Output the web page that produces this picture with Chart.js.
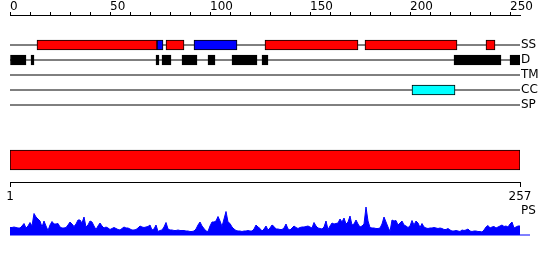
<!DOCTYPE html>
<html>
<head>
<meta charset="utf-8">
<script src="https://cdn.jsdelivr.net/npm/chart.js"></script>
<style>
  body { margin: 0; background: #fff; }
  #wrap { width: 550px; height: 260px; }
</style>
</head>
<body>
<div id="wrap"><canvas id="myChart" width="550" height="260"></canvas></div>
<script>
const seqLength = 257;
const trackNames = ['SS', 'D', 'TM', 'CC', 'SP', 'PS'];
const topTickLabels = [0, 50, 100, 150, 200, 250];
const bottomTickLabels = ['1', '257'];

// feature ranges (residue positions)
const ssHelix = [[13.5, 73.5], [78, 87], [127.5, 174], [177.5, 223.5], [238, 242.5]];
const ssStrand = [[73.5, 76.5], [92, 113.5]];
const disorder = [[0, 8], [10.5, 12], [73, 74.5], [76, 80.5], [86, 93.5], [99, 102.5],
                  [111, 123.5], [126, 129], [222, 245.5], [250, 255.5]];
const coiledCoil = [[201, 222.5]];
const domains = [[1, 257]];

// PS profile, one value per residue
const psScores = [
  7.5, 7.5, 8, 7.5, 7, 7, 9, 11.5, 7, 9,
  12.5, 9, 21.5, 18, 16, 14, 8, 14, 9, 4.5,
  10, 13.5, 11, 11, 11.5, 8, 7, 7, 7.5, 10,
  13, 11, 8.5, 11, 15, 15, 12, 18, 8, 10,
  14, 13, 9, 5.5, 9, 12, 9, 7, 8, 7,
  5.5, 6.5, 7.5, 6.5, 5.5, 5, 6.5, 8, 7, 7,
  6, 5, 5, 5.5, 7, 9, 8, 7.5, 8, 8.5,
  10, 5, 6, 10, 3.5, 4.5, 5, 8, 12.5, 6,
  5, 5, 4.5, 4.5, 5, 4.5, 4.5, 4.5, 4, 4,
  3.5, 3.5, 4, 6, 10, 13, 9, 6.5, 4, 3.5,
  9, 13, 13, 14, 18.5, 14, 8.5, 16, 23.5, 13,
  11.5, 8, 6, 4.5, 4, 4, 3.5, 4, 4, 4.5,
  4, 4, 6, 10, 8, 6.5, 4, 6, 9, 5,
  7, 10, 8.5, 6, 6, 5.5, 5.5, 7, 11, 6,
  5, 7, 9, 7.5, 6.5, 7.5, 8, 8, 8.5, 9,
  8, 7, 12.5, 9, 7, 6.5, 6, 8, 14, 5.5,
  9, 12, 11, 11.5, 12, 16, 13, 17, 11, 13,
  19, 10, 11, 15, 11, 8, 9, 11, 28, 14,
  7.5, 7, 7, 6.5, 6.5, 7, 11, 18, 13, 8,
  3.5, 15, 14, 14.5, 10, 12, 14, 10, 9, 7.5,
  9, 14.5, 10, 14, 12, 7.5, 11.5, 8, 7, 6.5,
  7, 7, 7.5, 7, 6.5, 7, 6.5, 5.5, 5.5, 6.5,
  5, 4, 4, 4.5, 4, 3.5, 5, 4.5, 5, 6,
  4, 3.5, 4, 4, 3.5, 3.5, 3, 5, 8, 9.5,
  7, 8, 8.5, 7, 8, 9, 10, 8.5, 9, 8,
  11, 13, 7, 8, 9, 9
];

// layout (pixel rows on the y scale)
const rowY = [45, 60, 75, 90, 105, 211];
const domainRow = 160;
const axisRow = 182;

Chart.defaults.font.family = 'DejaVu Sans';
Chart.defaults.font.size = 12;
Chart.defaults.color = '#000';

function boxes(ranges, row, color, thick, axisId) {
  return {
    type: 'bar',
    indexAxis: 'y',
    xAxisID: axisId || 'x',
    yAxisID: 'y',
    data: ranges.map(r => ({x: r, y: row})),
    backgroundColor: color,
    borderColor: '#000',
    borderWidth: 1,
    borderSkipped: false,
    barThickness: thick,
    grouped: false,
    order: 0
  };
}

function trackLine(row) {
  return {
    type: 'line',
    xAxisID: 'x',
    yAxisID: 'y',
    data: [{x: 0, y: row}, {x: 255, y: row}],
    borderColor: '#000',
    borderWidth: 1,
    pointRadius: 0,
    order: 1
  };
}

const datasets = [];
for (let i = 0; i < 5; i++) datasets.push(trackLine(rowY[i]));
datasets.push(boxes(ssHelix, rowY[0], '#ff0000', 10));
datasets.push(boxes(ssStrand, rowY[0], '#0000ff', 10));
datasets.push(boxes(disorder, rowY[1], '#000000', 10));
datasets.push(boxes(coiledCoil, rowY[3], '#00ffff', 10));
datasets.push(boxes(domains, domainRow, '#ff0000', 20, 'xb'));
datasets.push({
  type: 'line',
  xAxisID: 'x',
  yAxisID: 'yp',
  data: psScores.map((v, i) => ({x: i, y: v})),
  borderColor: '#0000ff',
  backgroundColor: '#0000ff',
  borderWidth: 1,
  fill: 'origin',
  pointRadius: 0,
  tension: 0,
  order: 2
});
datasets.push({
  type: 'line',
  xAxisID: 'x',
  yAxisID: 'yp',
  data: [{x: 0, y: 0}, {x: 260, y: 0}],
  borderColor: '#0000ff',
  borderWidth: 1,
  pointRadius: 0,
  clip: false,
  order: 2
});

new Chart(document.getElementById('myChart'), {
  type: 'line',
  data: { datasets: datasets },
  options: {
    responsive: false,
    animation: false,
    devicePixelRatio: 1,
    layout: { padding: { left: 10, right: 0, top: 0, bottom: 0 } },
    plugins: { legend: { display: false }, tooltip: { enabled: false } },
    scales: {
      x: {
        type: 'linear',
        position: 'top',
        min: 0,
        max: 255,
        offset: false,
        afterFit: s => { s.height = 15; },
        ticks: {
          stepSize: 10,
          includeBounds: false,
          autoSkip: false,
          maxRotation: 0,
          align: 'start',
          padding: -1,
          font: { lineHeight: 1 },
          callback: v => topTickLabels.includes(v) ? String(v) : ''
        },
        grid: { drawOnChartArea: false, tickLength: 3, color: '#000', offset: false },
        border: { color: '#000', width: 1 }
      },
      xb: {
        type: 'linear',
        axis: 'x',
        position: { y: axisRow },
        min: 1,
        max: seqLength,
        offset: false,
        afterBuildTicks: s => { s.ticks = [{value: 1}, {value: seqLength}]; },
        ticks: {
          autoSkip: false,
          maxRotation: 0,
          padding: 5,
          font: { lineHeight: 1 },
          callback: (v, i) => bottomTickLabels[i]
        },
        grid: { drawOnChartArea: false, tickLength: 4, color: '#000', offset: false },
        border: { color: '#000', width: 1 }
      },
      y: {
        type: 'linear',
        position: 'right',
        min: 15,
        max: 260,
        reverse: true,
        offset: false,
        afterBuildTicks: s => { s.ticks = rowY.map(v => ({value: v})); },
        afterFit: s => { s.width = 30; s.paddingTop = 0; s.paddingBottom = 0; },
        ticks: {
          padding: 1,
          autoSkip: false,
          callback: (v, i) => trackNames[i]
        },
        grid: { display: false, drawTicks: false, tickLength: 0, offset: false },
        border: { display: false }
      },
      yp: { type: 'linear', display: false, min: -25, max: 220, offset: false }
    }
  }
});
</script>
</body>
</html>
